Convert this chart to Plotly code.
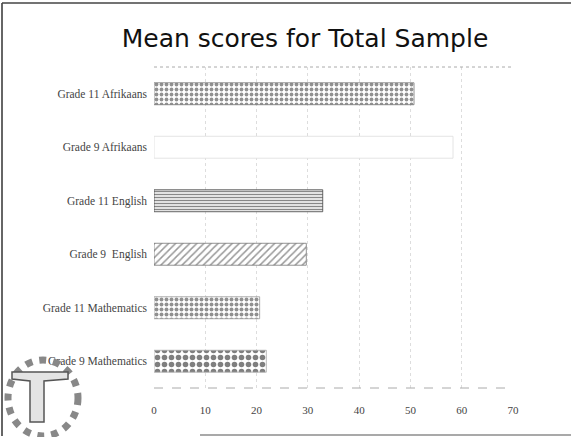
import plotly.graph_objects as go

categories = ["Grade 11 Afrikaans", "Grade 9 Afrikaans", "Grade 11 English",
              "Grade 9  English", "Grade 11 Mathematics", "Grade 9 Mathematics"]
mean_scores = [50.7, 58.3, 32.9, 29.7, 20.6, 21.9]
x_ticks = [0, 10, 20, 30, 40, 50, 60, 70]
x_tick_labels = ["0", "10", "20", "30", "40", "50", "60", "70"]

pattern_shapes = [".", "", "-", "/", ".", "."]
pattern_sizes = [5, 8, 3, 5, 5, 7]
pattern_solid = [0.45, 0.1, 0.5, 0.3, 0.5, 0.5]
pattern_fg = ["#222222", "#ffffff", "#111111", "#333333", "#222222", "#000000"]
line_colors = ["#777777", "#dddddd", "#444444", "#777777", "#999999", "#aaaaaa"]

W, H = 571, 437
L, R, T, B = 154, 513, 67, 388

fig = go.Figure()
fig.add_trace(go.Bar(
    x=mean_scores, y=categories, orientation="h", width=0.41,
    marker=dict(color="white",
                line=dict(color=line_colors, width=0.8),
                pattern=dict(shape=pattern_shapes, size=pattern_sizes,
                             solidity=pattern_solid, fgcolor=pattern_fg,
                             bgcolor="white", fillmode="overlay")),
    showlegend=False, hoverinfo="skip"))

def px(x):
    return (x - L) / (R - L)

def py(y):
    return (B - y) / (B - T)

shapes = [
    # page frame
    dict(type="line", xref="paper", yref="paper", x0=px(2), x1=px(2), y0=py(3), y1=py(436),
         line=dict(color="#333333", width=1.5)),
    dict(type="line", xref="paper", yref="paper", x0=px(2), x1=px(571), y0=py(3), y1=py(3),
         line=dict(color="#444444", width=1.5)),
    dict(type="line", xref="paper", yref="paper", x0=px(200), x1=px(571), y0=py(435), y1=py(435),
         line=dict(color="#555555", width=1.2)),
    # plot box top / bottom dotted
    dict(type="line", xref="paper", yref="paper", x0=0, x1=1, y0=1, y1=1,
         line=dict(color="#aaaaaa", width=1, dash="dot")),
    dict(type="line", xref="paper", yref="paper", x0=0, x1=1, y0=0, y1=0,
         line=dict(color="#aaaaaa", width=1, dash="dash")),
    # logo ring
    dict(type="circle", xref="paper", yref="paper", x0=px(8), x1=px(78), y0=py(360), y1=py(436),
         line=dict(color="#888888", width=7, dash="dot")),
    # logo T
    dict(type="path", xref="paper", yref="paper",
         path=(f"M {px(12)} {py(372)} L {px(68)} {py(372)} L {px(68)} {py(379)} "
               f"L {px(44)} {py(381)} L {px(44)} {py(422)} L {px(30)} {py(422)} "
               f"L {px(30)} {py(381)} L {px(12)} {py(379)} Z"),
         fillcolor="#e4e4e4", line=dict(color="#555555", width=1.5)),
]

fig.update_layout(
    width=W, height=H,
    margin=dict(l=L, r=W - R, t=T, b=H - B, pad=0),
    paper_bgcolor="white", plot_bgcolor="white",
    title=dict(text="Mean scores for Total Sample", x=305 / W, xanchor="center",
               y=1 - 38 / H, yanchor="middle",
               font=dict(family="DejaVu Sans", size=25, color="#111111")),
    xaxis=dict(range=[0, 70], tickvals=x_ticks, ticktext=x_tick_labels,
               showgrid=True, gridcolor="#dddddd", griddash="dot", gridwidth=1,
               zeroline=False, showline=False, ticks="",
               tickfont=dict(family="Liberation Serif", size=11, color="#444444"),
               ticklabelstandoff=14),
    yaxis=dict(autorange="reversed", showgrid=False, zeroline=False, showline=False,
               ticks="", ticklabelstandoff=6,
               tickfont=dict(family="Liberation Serif", size=11.5, color="#444444")),
    shapes=shapes,
)

fig.write_html("out.html", config={"displayModeBar": False},
               post_script="document.body.style.margin='0';document.body.style.padding='0';")
